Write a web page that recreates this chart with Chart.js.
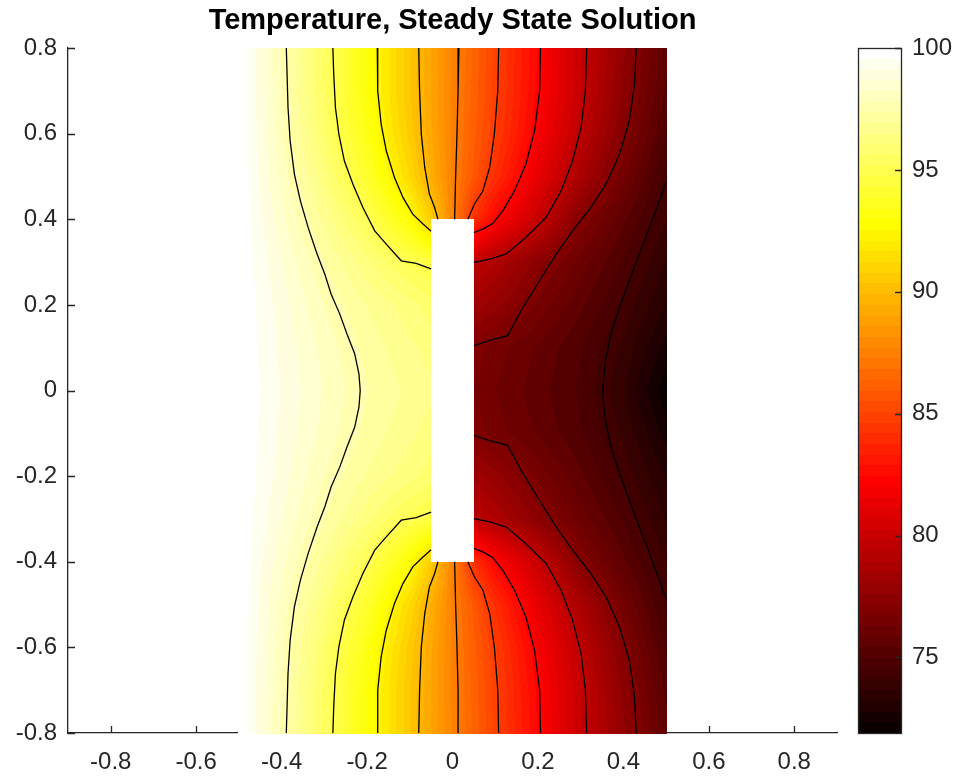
<!DOCTYPE html>
<html>
<head>
<meta charset="utf-8">
<title>Temperature, Steady State Solution</title>
<script src="https://cdn.jsdelivr.net/npm/chart.js@4.4.1/dist/chart.umd.min.js"></script>
<style>
  html, body { margin: 0; padding: 0; background: #fff; }
  #wrap { width: 955px; height: 777px; }
</style>
</head>
<body>
<div id="wrap"><canvas id="tempChart"></canvas></div>
<script>
// Axis ticks
const xTicks = [-0.8, -0.6, -0.4, -0.2, 0, 0.2, 0.4, 0.6, 0.8];
const xTickLabels = ['-0.8', '-0.6', '-0.4', '-0.2', '0', '0.2', '0.4', '0.6', '0.8'];
const yTicks = [-0.8, -0.6, -0.4, -0.2, 0, 0.2, 0.4, 0.6, 0.8];
const yTickLabels = ['-0.8', '-0.6', '-0.4', '-0.2', '0', '0.2', '0.4', '0.6', '0.8'];
const cbTicks = [75, 80, 85, 90, 95, 100];
const cbTickLabels = ['75', '80', '85', '90', '95', '100'];
const cMin = 71.9;
const cMax = 100;

// Plate and slot
const plateX = [-0.5, 0.5];
const plateY = [-0.8, 0.8];
const slotX = [-0.05, 0.05];
const slotY = [-0.4, 0.4];

// Temperature on a coarse grid (null = inside the slot)
const gridX = [-0.5, -0.4, -0.3, -0.2, -0.1, -0.05, 0, 0.05, 0.1, 0.2, 0.3, 0.4, 0.5];
const gridY = [0.8, 0.7, 0.6, 0.5, 0.4, 0.3, 0.2, 0.1, 0, -0.1, -0.2, -0.3, -0.4, -0.5, -0.6, -0.7, -0.8];
const tempGrid = [
  [100, 97.7, 95.5, 93.0, 90.4, 89.0, 87.7, 86.3, 84.9, 82.4, 79.9, 77.7, 75.6],   // 0.8
  [100, 97.8, 95.5, 93.0, 90.4, 89.0, 87.6, 86.2, 84.9, 82.3, 79.9, 77.5, 75.3],   // 0.7
  [100, 97.9, 95.7, 93.3, 90.6, 89.1, 87.6, 86.1, 84.7, 82.0, 79.5, 77.1, 74.9],   // 0.6
  [100, 98.1, 96.2, 94.0, 91.2, 89.4, 87.6, 85.8, 84.1, 81.2, 78.7, 76.4, 74.4],   // 0.5
  [100, 98.4, 96.8, 95.1, 92.8, 90.7, 87.6, 84.2, 82.3, 79.9, 77.1, 75.5, 74.1],   // 0.4
  [100, 98.7, 97.4, 96.2, 95.0, 94.6, null, 79.6, 78.9, 77.4, 76.1, 74.9, 73.6],   // 0.3
  [100, 98.9, 97.8, 96.9, 96.2, 95.8, null, 78.3, 77.8, 76.6, 75.5, 74.4, 73.2],   // 0.2
  [100, 99.0, 98.1, 97.2, 96.6, 96.3, null, 77.0, 76.5, 75.8, 75.0, 74.0, 72.6],   // 0.1
  [100, 99.1, 98.2, 97.4, 96.8, 96.6, null, 76.7, 76.3, 75.6, 74.9, 73.7, 72.0],   // 0
  [100, 99.0, 98.1, 97.2, 96.6, 96.3, null, 77.0, 76.5, 75.8, 75.0, 74.0, 72.6],   // -0.1
  [100, 98.9, 97.8, 96.9, 96.2, 95.8, null, 78.3, 77.8, 76.6, 75.5, 74.4, 73.2],   // -0.2
  [100, 98.7, 97.4, 96.2, 95.0, 94.6, null, 79.6, 78.9, 77.4, 76.1, 74.9, 73.6],   // -0.3
  [100, 98.4, 96.8, 95.1, 92.8, 90.7, 87.6, 84.2, 82.3, 79.9, 77.1, 75.5, 74.1],   // -0.4
  [100, 98.1, 96.2, 94.0, 91.2, 89.4, 87.6, 85.8, 84.1, 81.2, 78.7, 76.4, 74.4],   // -0.5
  [100, 97.9, 95.7, 93.3, 90.6, 89.1, 87.6, 86.1, 84.7, 82.0, 79.5, 77.1, 74.9],   // -0.6
  [100, 97.8, 95.5, 93.0, 90.4, 89.0, 87.6, 86.2, 84.9, 82.3, 79.9, 77.5, 75.3],   // -0.7
  [100, 97.7, 95.5, 93.0, 90.4, 89.0, 87.7, 86.3, 84.9, 82.4, 79.9, 77.7, 75.6]    // -0.8
];

// Contour lines [x, y]
const c975 = [[-0.389, 0.8], [-0.385, 0.661], [-0.380, 0.583], [-0.370, 0.505], [-0.356, 0.443], [-0.338, 0.381],
  [-0.317, 0.319], [-0.299, 0.272], [-0.284, 0.225], [-0.264, 0.179], [-0.247, 0.132], [-0.229, 0.086], [-0.219, 0.039],
  [-0.216, 0], [-0.219, -0.039], [-0.229, -0.086], [-0.247, -0.132], [-0.264, -0.179], [-0.284, -0.225], [-0.299, -0.272],
  [-0.317, -0.319], [-0.338, -0.381], [-0.356, -0.443], [-0.370, -0.505], [-0.380, -0.583], [-0.385, -0.661], [-0.389, -0.8]];
const c950Up = [[-0.280, 0.8], [-0.278, 0.739], [-0.274, 0.661], [-0.266, 0.599], [-0.253, 0.536], [-0.233, 0.482],
  [-0.210, 0.428], [-0.182, 0.373], [-0.155, 0.342], [-0.120, 0.303], [-0.085, 0.297], [-0.050, 0.284]];
const c950Dn = [[-0.280, -0.8], [-0.278, -0.739], [-0.274, -0.661], [-0.266, -0.599], [-0.253, -0.536], [-0.233, -0.482],
  [-0.210, -0.428], [-0.182, -0.373], [-0.155, -0.342], [-0.120, -0.303], [-0.085, -0.297], [-0.050, -0.284]];
const c924Up = [[-0.176, 0.8], [-0.175, 0.700], [-0.167, 0.622], [-0.155, 0.560], [-0.136, 0.498], [-0.116, 0.451],
  [-0.093, 0.412], [-0.069, 0.389], [-0.050, 0.372]];
const c924Dn = [[-0.176, -0.8], [-0.175, -0.700], [-0.167, -0.622], [-0.155, -0.560], [-0.136, -0.498], [-0.116, -0.451],
  [-0.093, -0.412], [-0.069, -0.389], [-0.050, -0.372]];
const c898Up = [[-0.079, 0.8], [-0.077, 0.700], [-0.073, 0.599], [-0.065, 0.521], [-0.054, 0.459], [-0.042, 0.428], [-0.034, 0.400]];
const c898Dn = [[-0.079, -0.8], [-0.077, -0.700], [-0.073, -0.599], [-0.065, -0.521], [-0.054, -0.459], [-0.042, -0.428], [-0.034, -0.400]];
const c873Up = [[0.015, 0.8], [0.013, 0.700], [0.010, 0.583], [0.007, 0.490], [0.005, 0.400]];
const c873Dn = [[0.015, -0.8], [0.013, -0.700], [0.010, -0.583], [0.007, -0.490], [0.005, -0.400]];
const c847Up = [[0.108, 0.8], [0.106, 0.700], [0.098, 0.599], [0.087, 0.521], [0.071, 0.466], [0.051, 0.435], [0.036, 0.400]];
const c847Dn = [[0.108, -0.8], [0.106, -0.700], [0.098, -0.599], [0.087, -0.521], [0.071, -0.466], [0.051, -0.435], [0.036, -0.400]];
const c822Up = [[0.206, 0.8], [0.204, 0.700], [0.192, 0.606], [0.172, 0.529], [0.145, 0.466], [0.118, 0.420],
  [0.094, 0.390], [0.071, 0.377], [0.050, 0.369]];
const c822Dn = [[0.206, -0.8], [0.204, -0.700], [0.192, -0.606], [0.172, -0.529], [0.145, -0.466], [0.118, -0.420],
  [0.094, -0.390], [0.071, -0.377], [0.050, -0.369]];
const c796Up = [[0.314, 0.8], [0.311, 0.700], [0.301, 0.614], [0.281, 0.536], [0.254, 0.466], [0.219, 0.404],
  [0.172, 0.358], [0.126, 0.319], [0.087, 0.307], [0.050, 0.299]];
const c796Dn = [[0.314, -0.8], [0.311, -0.700], [0.301, -0.614], [0.281, -0.536], [0.254, -0.466], [0.219, -0.404],
  [0.172, -0.358], [0.126, -0.319], [0.087, -0.307], [0.050, -0.299]];
const c770Up = [[0.430, 0.8], [0.426, 0.715], [0.414, 0.630], [0.391, 0.552], [0.359, 0.482], [0.324, 0.428],
  [0.281, 0.373], [0.243, 0.319], [0.204, 0.257], [0.165, 0.194], [0.129, 0.128], [0.087, 0.117], [0.050, 0.105]];
const c770Dn = [[0.430, -0.8], [0.426, -0.715], [0.414, -0.630], [0.391, -0.552], [0.359, -0.482], [0.324, -0.428],
  [0.281, -0.373], [0.243, -0.319], [0.204, -0.257], [0.165, -0.194], [0.129, -0.128], [0.087, -0.117], [0.050, -0.105]];
const c745 = [[0.5, 0.486], [0.484, 0.443], [0.461, 0.381], [0.437, 0.319], [0.414, 0.257], [0.391, 0.194], [0.371, 0.132],
  [0.358, 0.070], [0.352, 0.008], [0.351, 0], [0.352, -0.008], [0.358, -0.070], [0.371, -0.132], [0.391, -0.194],
  [0.414, -0.257], [0.437, -0.319], [0.461, -0.381], [0.484, -0.443], [0.5, -0.486]];

const contourLines = [c975, c950Up, c950Dn, c924Up, c924Dn, c898Up, c898Dn, c873Up, c873Dn,
  c847Up, c847Dn, c822Up, c822Dn, c796Up, c796Dn, c770Up, c770Dn, c745];

const axisColor = '#262626';
const fontFamily = '"Liberation Sans", Helvetica, Arial, sans-serif';

// MATLAB "hot" colormap with 64 entries
function hotColor(v) {
  let k = Math.floor((v - cMin) / (cMax - cMin) * 64);
  k = Math.max(0, Math.min(63, k)) + 1;
  const r = k <= 24 ? k / 24 : 1;
  const g = k <= 24 ? 0 : (k <= 48 ? (k - 24) / 24 : 1);
  const b = k <= 48 ? 0 : (k - 48) / 16;
  return [Math.round(r * 255), Math.round(g * 255), Math.round(b * 255)];
}

function clamp(v, lo, hi) {
  return Math.max(lo, Math.min(hi, v));
}

// bilinear lookup in the grid
function tempAt(x, y) {
  let i = 0;
  while (i < gridX.length - 2 && x > gridX[i + 1]) i++;
  let j = 0;
  while (j < gridY.length - 2 && y < gridY[j + 1]) j++;
  const tx = clamp((x - gridX[i]) / (gridX[i + 1] - gridX[i]), 0, 1);
  const ty = clamp((gridY[j] - y) / (gridY[j] - gridY[j + 1]), 0, 1);
  let a = tempGrid[j][i], b = tempGrid[j][i + 1];
  let c = tempGrid[j + 1][i], d = tempGrid[j + 1][i + 1];
  if (a == null) a = b;
  if (b == null) b = a;
  if (c == null) c = d;
  if (d == null) d = c;
  if (a == null) { a = c; b = d; }
  if (c == null) { c = a; d = b; }
  const up = a + (b - a) * tx;
  const dn = c + (d - c) * tx;
  return up + (dn - up) * ty;
}

// Draws inward ticks, then the shaded plate over the axes
const fieldPlugin = {
  id: 'field',
  beforeDatasetsDraw(chart) {
    const ctx = chart.ctx;
    const xs = chart.scales.x;
    const ys = chart.scales.y;

    ctx.save();
    ctx.strokeStyle = axisColor;
    ctx.lineWidth = 1.3;
    ctx.beginPath();
    xTicks.forEach(v => {
      const px = Math.round(xs.getPixelForValue(v)) + 0.5;
      ctx.moveTo(px, ys.bottom);
      ctx.lineTo(px, ys.bottom - 7);
    });
    yTicks.forEach(v => {
      const py = Math.round(ys.getPixelForValue(v)) + 0.5;
      ctx.moveTo(xs.left, py);
      ctx.lineTo(xs.left + 7, py);
    });
    ctx.stroke();

    const x0 = Math.floor(xs.getPixelForValue(plateX[0]));
    const x1 = Math.ceil(xs.getPixelForValue(plateX[1]));
    const y0 = Math.floor(ys.getPixelForValue(plateY[1]));
    const y1 = Math.ceil(ys.getPixelForValue(plateY[0]));
    const w = x1 - x0;
    const h = y1 - y0 + 1;
    const off = document.createElement('canvas');
    off.width = w;
    off.height = h;
    const octx = off.getContext('2d');
    const img = octx.createImageData(w, h);
    for (let py = 0; py < h; py++) {
      const vy = clamp(ys.getValueForPixel(y0 + py + 0.5), plateY[0], plateY[1]);
      for (let px = 0; px < w; px++) {
        const vx = clamp(xs.getValueForPixel(x0 + px + 0.5), plateX[0], plateX[1]);
        if (vx > slotX[0] && vx < slotX[1] && vy > slotY[0] && vy < slotY[1]) continue;
        const col = hotColor(tempAt(vx, vy));
        const k = (py * w + px) * 4;
        img.data[k] = col[0];
        img.data[k + 1] = col[1];
        img.data[k + 2] = col[2];
        img.data[k + 3] = 255;
      }
    }
    octx.putImageData(img, 0, 0);
    ctx.drawImage(off, x0, y0);
    ctx.restore();
  },
  afterDraw(chart) {
    // colorbar
    const ctx = chart.ctx;
    const cb = chart.scales.cb;
    const top = cb.getPixelForValue(cMax);
    const bot = cb.getPixelForValue(cMin);
    const left = cb.left + 21;
    const width = 43;
    ctx.save();
    for (let py = Math.floor(top); py < Math.ceil(bot); py++) {
      const c = hotColor(cb.getValueForPixel(py + 0.5));
      ctx.fillStyle = 'rgb(' + c[0] + ',' + c[1] + ',' + c[2] + ')';
      ctx.fillRect(left, py, width, 1);
    }
    ctx.strokeStyle = axisColor;
    ctx.lineWidth = 1.3;
    ctx.strokeRect(left + 0.5, Math.round(top) + 0.5, width, Math.round(bot - top));
    ctx.beginPath();
    cbTicks.forEach(v => {
      const py = Math.round(cb.getPixelForValue(v)) + 0.5;
      ctx.moveTo(left + width, py);
      ctx.lineTo(left + width - 6, py);
    });
    ctx.stroke();
    ctx.restore();
  }
};

const datasets = contourLines.map((pts, n) => ({
  label: 'contour ' + n,
  data: pts.map(p => ({ x: p[0], y: p[1] })),
  showLine: true,
  borderColor: '#000',
  borderWidth: 1.3,
  pointRadius: 0,
  tension: 0,
  fill: false
}));

const tickFont = { family: fontFamily, size: 24 };

new Chart(document.getElementById('tempChart'), {
  type: 'scatter',
  data: { datasets: datasets },
  options: {
    responsive: true,
    maintainAspectRatio: false,
    animation: false,
    events: [],
    layout: { padding: 0 },
    plugins: {
      legend: { display: false },
      tooltip: { enabled: false },
      title: {
        display: true,
        text: 'Temperature, Steady State Solution',
        fullSize: false,
        color: '#000',
        font: { family: fontFamily, size: 29, weight: 'bold', lineHeight: 1.2 },
        padding: { top: 4, bottom: 9.2 }
      }
    },
    scales: {
      x: {
        type: 'linear',
        position: 'bottom',
        min: -0.9,
        max: 0.9,
        afterFit: s => { s.height = 44; },
        afterBuildTicks: s => { s.ticks = xTicks.map(v => ({ value: v })); },
        grid: { display: false, drawTicks: false },
        border: { display: true, color: axisColor, width: 1.3 },
        ticks: {
          autoSkip: false,
          maxRotation: 0,
          padding: 15,
          color: axisColor,
          font: tickFont,
          callback: (v, i) => xTickLabels[i]
        }
      },
      y: {
        type: 'linear',
        position: 'left',
        min: -0.8,
        max: 0.8,
        afterFit: s => { s.width = 68; },
        afterBuildTicks: s => { s.ticks = yTicks.map(v => ({ value: v })); },
        grid: { display: false, drawTicks: false },
        border: { display: true, color: axisColor, width: 1.3 },
        ticks: {
          autoSkip: false,
          padding: 11,
          color: axisColor,
          font: tickFont,
          callback: (v, i) => yTickLabels[i]
        }
      },
      cb: {
        type: 'linear',
        axis: 'y',
        position: 'right',
        min: cMin,
        max: cMax,
        afterFit: s => { s.width = 118; },
        afterBuildTicks: s => { s.ticks = cbTicks.map(v => ({ value: v })); },
        // the hidden tick length pushes the labels past the colorbar
        grid: { display: false, drawTicks: true, tickLength: 75 },
        border: { display: false },
        ticks: {
          autoSkip: false,
          padding: 0,
          color: axisColor,
          font: tickFont,
          callback: (v, i) => cbTickLabels[i]
        }
      }
    }
  },
  plugins: [fieldPlugin]
});
</script>
</body>
</html>
